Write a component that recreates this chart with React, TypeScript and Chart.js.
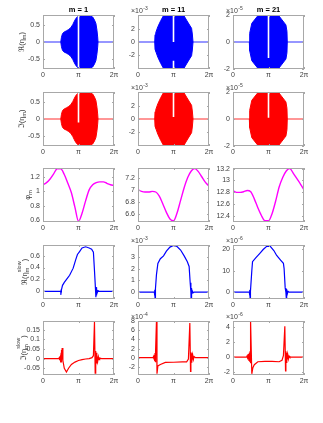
import React, { useEffect, useRef } from 'react';
import { Chart, registerables } from 'chart.js';
Chart.register(...registerables);

const FONT = '"Liberation Sans", Arial, "DejaVu Sans", sans-serif';
const TXT = '#404040';

// ---------- categories / ticks ----------
const columnTitles = ['m = 1', 'm = 11', 'm = 21'];
const xTickValues = [0, 1, 2]; // in units of pi
const xTickLabels = ['0', 'π', '2π'];

// ---------- rows 1-2: envelopes of the fast oscillation (x in units of pi) ----------
const env1X = [0.5, 0.52, 0.55, 0.6, 0.66, 0.72, 0.78, 0.84, 0.9, 0.95, 1.0, 1.07, 1.2, 1.3, 1.4, 1.45, 1.49, 1.52, 1.54, 1.55];
const env1U = [0, 0.14, 0.25, 0.3, 0.33, 0.37, 0.42, 0.52, 0.65, 0.73, 0.77, 0.79, 0.79, 0.78, 0.74, 0.65, 0.55, 0.35, 0.15, 0];
const env2X = [0.47, 0.48, 0.5, 0.56, 0.64, 0.72, 1.0, 1.29, 1.4, 1.51, 1.53, 1.55];
const env2U = [0, 1.1, 1.4, 2.3, 3.2, 3.98, 4.0, 3.98, 3.0, 2.05, 1.2, 0]; // x1e-3
const env3X = [0.46, 0.47, 0.53, 0.71, 1.0, 1.28, 1.49, 1.52, 1.53];
const env3U = [0, 0.65, 1.4, 2.0, 2.0, 2.0, 1.28, 0.8, 0]; // x1e-5

// white gaps at x = pi: [top, bottom] pairs
const gapsRe = [[[0.8, -0.75]], [[4.05, 0], [-2.8, -4.05]], [[2.02, -1.2]]];
const gapsIm = [[[0.8, -0.1]], [[4.05, 0.3]], [[2.02, 0.1]]];

// ---------- row 3: phi_m ----------
const phiX = [0, 0.1, 0.2, 0.3, 0.4, 0.5, 0.6, 0.7, 0.8, 0.9, 1.0, 1.1, 1.2, 1.3, 1.4, 1.5, 1.6, 1.7, 1.8, 1.9, 2.0];
const phi1 = [1.09, 1.12, 1.17, 1.24, 1.31, 1.31, 1.23, 1.11, 0.98, 0.78, 0.59, 0.7, 0.87, 1.02, 1.09, 1.12, 1.13, 1.13, 1.11, 1.09, 1.08];
const phi2 = [7.0, 6.97, 6.96, 6.96, 6.97, 6.96, 6.89, 6.76, 6.62, 6.51, 6.48, 6.61, 6.82, 7.03, 7.2, 7.31, 7.35, 7.3, 7.21, 7.12, 7.06];
const phi3 = [12.83, 12.8, 12.8, 12.81, 12.83, 12.81, 12.69, 12.54, 12.41, 12.32, 12.32, 12.44, 12.65, 12.89, 13.05, 13.16, 13.2, 13.12, 13.03, 12.94, 12.84];

// ---------- row 4: Re(eta_slow) ----------
const re1X = [0, 0.5, 0.505, 0.51, 0.515, 0.52, 0.55, 0.6, 0.7, 0.75, 0.85, 0.92, 0.97, 1.03, 1.1, 1.2, 1.3, 1.37, 1.42, 1.45, 1.48, 1.49, 1.495, 1.5, 1.505, 1.51, 1.52, 1.53, 1.55, 1.58, 2];
const re1Y = [0, 0, -0.06, 0.03, -0.02, 0.02, 0.1, 0.15, 0.23, 0.27, 0.39, 0.53, 0.62, 0.67, 0.73, 0.75, 0.73, 0.71, 0.66, 0.35, 0.02, -0.1, 0.07, -0.07, 0.05, -0.04, 0.03, -0.02, 0.01, 0, 0];
const re2X = [0, 0.46, 0.47, 0.475, 0.48, 0.485, 0.49, 0.5, 0.52, 0.56, 0.63, 0.72, 0.8, 0.9, 1.0, 1.1, 1.2, 1.3, 1.39, 1.44, 1.47, 1.49, 1.495, 1.5, 1.505, 1.51, 1.52, 1.53, 1.55, 1.58, 2];
const re2Y = [0, 0, -0.3, 0.2, -0.5, 0.3, -0.2, 0.3, 1.5, 2.45, 2.86, 3.1, 3.5, 3.85, 4.0, 3.9, 3.6, 3.1, 2.6, 2.2, 0.8, 0, -0.5, 0.35, -0.4, 0.25, -0.2, 0.1, -0.05, 0, 0]; // x1e-3
const re3X = [0, 0.46, 0.47, 0.475, 0.48, 0.485, 0.49, 0.5, 0.53, 0.55, 0.64, 0.75, 0.85, 0.95, 1.05, 1.15, 1.23, 1.34, 1.42, 1.44, 1.47, 1.49, 1.5, 1.505, 1.51, 1.52, 1.53, 1.55, 1.58, 2];
const re3Y = [0, 0, -1.5, 1.0, -2.5, 1.5, -1, 0.5, 10, 14.3, 16.1, 18.1, 20, 21.5, 21.5, 19.5, 17.2, 15, 13.5, 11, 2, 0, -2.5, 1.5, -1.8, 1, -0.8, 0.4, 0, 0]; // x1e-6

// ---------- row 5: Im(eta_slow) ----------
const im1X = [0, 0.44, 0.46, 0.47, 0.48, 0.49, 0.5, 0.505, 0.51, 0.515, 0.52, 0.53, 0.54, 0.56, 0.6, 0.66, 0.72, 0.8, 0.9, 1.0, 1.1, 1.2, 1.3, 1.38, 1.42, 1.45, 1.47, 1.48, 1.49, 1.5, 1.51, 1.52, 1.54, 1.56, 1.58, 1.6, 1.65, 2];
const im1Y = [0, 0, 0.005, -0.008, 0.012, -0.015, 0.02, -0.02, 0.03, -0.02, 0.045, -0.01, 0.055, -0.01, -0.05, -0.07, -0.05, -0.03, -0.018, -0.01, -0.005, -0.002, 0, 0.005, 0.015, 0.19, -0.075, 0.04, -0.035, 0.03, -0.025, 0.02, -0.015, 0.01, -0.006, 0.003, 0, 0];
const im2X = [0, 0.42, 0.44, 0.45, 0.46, 0.47, 0.48, 0.49, 0.5, 0.52, 0.535, 0.56, 0.63, 0.77, 1.0, 1.25, 1.37, 1.42, 1.46, 1.48, 1.49, 1.5, 1.51, 1.52, 1.54, 1.56, 1.58, 1.62, 2];
const im2Y = [0, 0, 0.3, -0.4, 0.6, -0.8, 1.0, -1.0, 1.5, 8, -3.5, -1.8, -1.5, -1.05, -1.0, -0.9, -0.9, -0.3, 7.6, -3.0, 1.2, -1.0, 1.0, -0.8, 0.6, -0.4, 0.25, 0, 0]; // x1e-4
const im3X = [0, 0.38, 0.4, 0.42, 0.44, 0.45, 0.46, 0.47, 0.48, 0.49, 0.5, 0.53, 0.56, 0.6, 0.7, 0.9, 1.1, 1.3, 1.38, 1.42, 1.46, 1.48, 1.49, 1.5, 1.51, 1.52, 1.54, 1.56, 1.58, 1.6, 2];
const im3Y = [0, 0, 0.2, -0.3, 0.4, -0.5, 0.6, -0.6, 0.8, -0.8, 4.8, -2.2, -1.4, -1.0, -0.6, -0.55, -0.55, -0.6, -0.4, 0.2, 4.1, -1.8, 0.8, -0.7, 0.6, -0.5, 0.4, -0.25, 0.15, 0, 0]; // x1e-6

// ---------- axis ranges / ticks / exponents ----------
const yRanges = [
  [[-0.8, 0.8], [-4.05, 4.05], [-2.02, 2.02]],
  [[-0.8, 0.8], [-4.05, 4.05], [-2.02, 2.02]],
  [[0.58, 1.32], [6.46, 7.36], [12.3, 13.21]],
  [[-0.13, 0.78], [-0.58, 4.03], [-3.2, 22.1]],
  [[-0.085, 0.195], [-3.8, 8.05], [-2.36, 4.8]],
];
const yTickSets = [
  [[-0.5, 0, 0.5], [-2, 0, 2], [-2, 0, 2]],
  [[-0.5, 0, 0.5], [-2, 0, 2], [-2, 0, 2]],
  [[0.6, 0.8, 1, 1.2], [6.6, 6.8, 7, 7.2], [12.4, 12.6, 12.8, 13, 13.2]],
  [[0, 0.2, 0.4, 0.6], [0, 1, 2, 3], [0, 10, 20]],
  [[-0.05, 0, 0.05, 0.1, 0.15], [-2, 0, 2, 4, 6, 8], [-2, 0, 2, 4]],
];
const exponents = [
  [null, '-3', '-5'],
  [null, '-3', '-5'],
  [null, null, null],
  [null, '-3', '-6'],
  [null, '-4', '-6'],
];

type Part = { t: string; k: 'n' | 'sub'; sup?: string };
const rowLabels: Part[][] = [
  [{ t: 'ℜ(η', k: 'n' }, { t: 'm', k: 'sub' }, { t: ')', k: 'n' }],
  [{ t: 'ℑ(η', k: 'n' }, { t: 'm', k: 'sub' }, { t: ')', k: 'n' }],
  [{ t: 'φ', k: 'n' }, { t: 'm', k: 'sub' }],
  [{ t: 'ℜ(η', k: 'n' }, { t: 'm', k: 'sub', sup: 'slow' }, { t: ')', k: 'n' }],
  [{ t: 'ℑ(η', k: 'n' }, { t: 'm', k: 'sub', sup: 'slow' }, { t: ')', k: 'n' }],
];
const labelOffsets = [22, 22, 16, 19, 20];

// ---------- layout ----------
const COLS = [43, 138, 233];
const ROWS = [15, 92, 168, 245, 321];
const PW = 71, PH = 54;
const PADL = 42, PADT = 15, PADR = 8, PADB = 14;

const BLUE = '#0000ff', RED = '#ff0000', MAG = '#ff00ff';

const pts = (xs: number[], ys: number[]) => xs.map((x, i) => ({ x, y: ys[i] }));
const neg = (ys: number[]) => ys.map((v) => -v);

function envDatasets(xs: number[], up: number[], color: string, zero: string, gaps: number[][]) {
  const g: any[] = [];
  gaps.forEach(([a, b]) => g.push({ x: 1, y: a }, { x: 1, y: b }, { x: 1, y: null }));
  return [
    { data: g, borderColor: '#ffffff', borderWidth: 1.6, spanGaps: false },
    { data: pts(xs, up), borderColor: color, backgroundColor: color, borderWidth: 1, fill: 'origin' },
    { data: pts(xs, neg(up)), borderColor: color, backgroundColor: color, borderWidth: 1, fill: 'origin' },
    { data: [{ x: 0, y: 0 }, { x: 2, y: 0 }], borderColor: zero, borderWidth: 1.5 },
  ];
}
function lineDataset(xs: number[], ys: number[], color: string, smooth: boolean) {
  return [{
    data: pts(xs, ys), borderColor: color, borderWidth: smooth ? 1.4 : 1.2,
    tension: smooth ? 0.4 : 0, cubicInterpolationMode: smooth ? 'monotone' : 'default',
  }];
}

const envs = [[env1X, env1U], [env2X, env2U], [env3X, env3U]];
const phis = [phi1, phi2, phi3];
const res = [[re1X, re1Y], [re2X, re2Y], [re3X, re3Y]];
const ims = [[im1X, im1Y], [im2X, im2Y], [im3X, im3Y]];

function datasetsFor(r: number, c: number) {
  if (r === 0) return envDatasets(envs[c][0], envs[c][1], BLUE, 'rgba(40,40,255,0.65)', gapsRe[c]);
  if (r === 1) return envDatasets(envs[c][0], envs[c][1], RED, 'rgba(255,40,40,0.65)', gapsIm[c]);
  if (r === 2) return lineDataset(phiX, phis[c], MAG, true);
  if (r === 3) return lineDataset(res[c][0], res[c][1], BLUE, false);
  return lineDataset(ims[c][0], ims[c][1], RED, false);
}

function drawLabel(ctx: CanvasRenderingContext2D, parts: Part[], cx: number, cy: number) {
  const fB = `7.5px ${FONT}`, fS = `5.5px ${FONT}`;
  ctx.save();
  ctx.translate(cx, cy);
  ctx.rotate(-Math.PI / 2);
  const widths = parts.map((p) => {
    if (p.k === 'n') { ctx.font = fB; return ctx.measureText(p.t).width; }
    ctx.font = fS;
    return Math.max(ctx.measureText(p.t).width, p.sup ? ctx.measureText(p.sup).width : 0);
  });
  const total = widths.reduce((s, v) => s + v, 0);
  let x = -total / 2;
  ctx.fillStyle = TXT;
  ctx.textAlign = 'left';
  ctx.textBaseline = 'alphabetic';
  parts.forEach((p, i) => {
    if (p.k === 'n') { ctx.font = fB; ctx.fillText(p.t, x, 2.5); }
    else {
      ctx.font = fS;
      ctx.fillText(p.t, x, 4.5);
      if (p.sup) ctx.fillText(p.sup, x, -3);
    }
    x += widths[i];
  });
  ctx.restore();
}

function makeDecor(r: number, c: number) {
  return {
    id: 'decor',
    afterDraw(chart: any) {
      const ctx: CanvasRenderingContext2D = chart.ctx;
      const a = chart.chartArea;
      const xs = chart.scales.x, ys = chart.scales.y;
      ctx.save();
      ctx.strokeStyle = '#a8a8a8';
      ctx.lineWidth = 1;
      ctx.strokeRect(a.left + 0.5, a.top + 0.5, a.right - a.left - 1, a.bottom - a.top - 1);
      ctx.beginPath();
      xTickValues.forEach((v) => {
        const px = Math.round(xs.getPixelForValue(v)) + 0.5;
        ctx.moveTo(px, a.bottom); ctx.lineTo(px, a.bottom - 2);
        ctx.moveTo(px, a.top); ctx.lineTo(px, a.top + 2);
      });
      yTickSets[r][c].forEach((v) => {
        const py = Math.round(ys.getPixelForValue(v)) + 0.5;
        ctx.moveTo(a.left, py); ctx.lineTo(a.left + 2, py);
        ctx.moveTo(a.right, py); ctx.lineTo(a.right - 2, py);
      });
      ctx.stroke();
      if (r === 0) {
        ctx.font = `bold 7.5px ${FONT}`;
        ctx.fillStyle = '#000';
        ctx.textAlign = 'center';
        ctx.textBaseline = 'alphabetic';
        ctx.fillText(columnTitles[c], (a.left + a.right) / 2, a.top - 3);
      }
      const e = exponents[r][c];
      if (e) {
        ctx.fillStyle = TXT;
        ctx.textAlign = 'left';
        ctx.textBaseline = 'alphabetic';
        ctx.font = `7px ${FONT}`;
        const x0 = a.left - 7;
        ctx.fillText('×10', x0, a.top - 2);
        const w = ctx.measureText('×10').width;
        ctx.font = `5px ${FONT}`;
        ctx.fillText(e, x0 + w + 0.5, a.top - 5.5);
      }
      if (c === 0) drawLabel(ctx, rowLabels[r], a.left - labelOffsets[r], (a.top + a.bottom) / 2);
      ctx.restore();
    },
  };
}

const fmt = (v: number) => String(Math.round(v * 1e6) / 1e6);

function Panel({ r, c }: { r: number; c: number }) {
  const ref = useRef<HTMLCanvasElement>(null);
  useEffect(() => {
    const canvas = ref.current!;
    const [yMin, yMax] = yRanges[r][c];
    const yTicks = yTickSets[r][c];
    const chart = new Chart(canvas, {
      type: 'line',
      data: { datasets: datasetsFor(r, c) as any },
      options: {
        animation: false,
        responsive: false,
        events: [],
        layout: { padding: { left: 0, top: PADT, right: PADR, bottom: 0 } },
        elements: { point: { radius: 0 } },
        plugins: { legend: { display: false }, tooltip: { enabled: false }, title: { display: false } },
        scales: {
          x: {
            type: 'linear', min: 0, max: 2,
            grid: { display: false, drawTicks: false },
            border: { display: false },
            ticks: {
              autoSkip: false, maxRotation: 0, padding: 2, color: TXT,
              font: { family: FONT, size: 7 },
              callback: (v: any) => xTickLabels[xTickValues.indexOf(Number(v))] ?? '',
            },
            afterBuildTicks: (s: any) => { s.ticks = xTickValues.map((v) => ({ value: v })); },
            afterFit: (s: any) => { s.height = PADB; },
          },
          y: {
            type: 'linear', min: yMin, max: yMax,
            grid: { display: false, drawTicks: false },
            border: { display: false },
            ticks: {
              autoSkip: false, padding: 3, color: TXT,
              font: { family: FONT, size: 7 },
              callback: (v: any) => fmt(Number(v)),
            },
            afterBuildTicks: (s: any) => { s.ticks = yTicks.map((v) => ({ value: v })); },
            afterFit: (s: any) => { s.width = PADL; },
          },
        },
      } as any,
      plugins: [makeDecor(r, c) as any],
    });
    return () => chart.destroy();
  }, [r, c]);
  const w = PW + PADL + PADR, h = PH + PADT + PADB;
  return (
    <canvas
      ref={ref}
      width={w}
      height={h}
      style={{ position: 'absolute', left: COLS[c] - PADL, top: ROWS[r] - PADT, width: w, height: h }}
    />
  );
}

export default function App() {
  const cells: JSX.Element[] = [];
  for (let r = 0; r < 5; r++) for (let c = 0; c < 3; c++) cells.push(<Panel key={`${r}-${c}`} r={r} c={c} />);
  return (
    <div style={{ position: 'absolute', left: 0, top: 0, width: 323, height: 423, background: '#fff', overflow: 'hidden' }}>
      {cells}
    </div>
  );
}
